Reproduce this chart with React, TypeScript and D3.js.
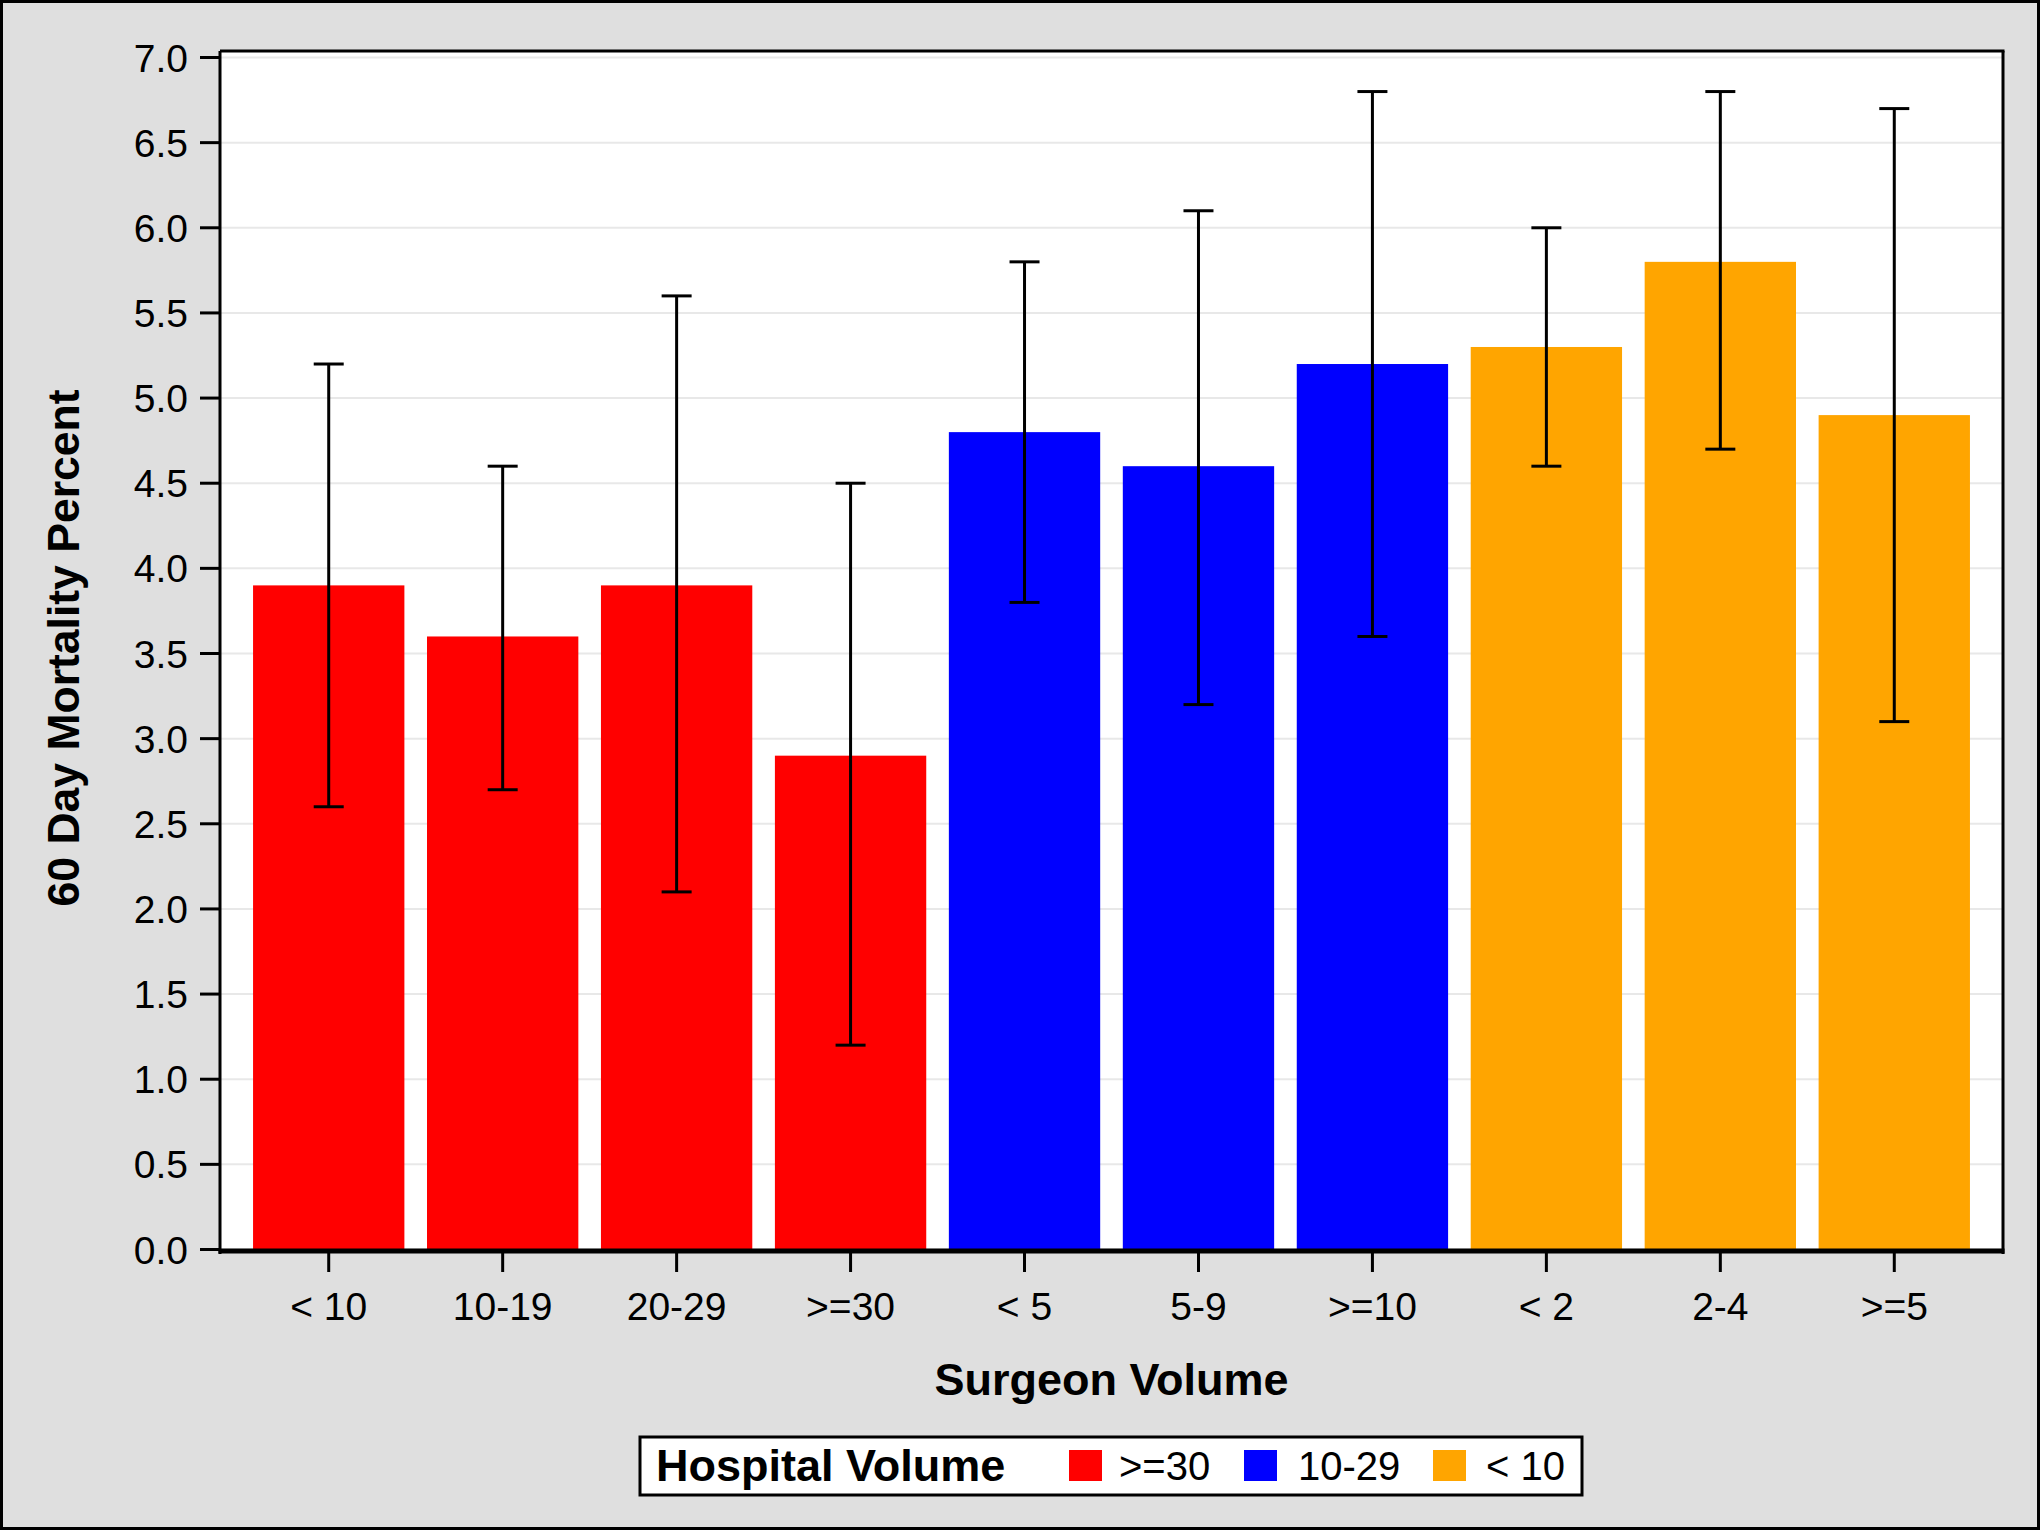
import React from "react";
import * as d3 from "d3";

const categories = ["< 10", "10-19", "20-29", ">=30", "< 5", "5-9", ">=10", "< 2", "2-4", ">=5"];
const groups = [">=30", ">=30", ">=30", ">=30", "10-29", "10-29", "10-29", "< 10", "< 10", "< 10"];
const values = [3.9, 3.6, 3.9, 2.9, 4.8, 4.6, 5.2, 5.3, 5.8, 4.9];
const lower = [2.6, 2.7, 2.1, 1.2, 3.8, 3.2, 3.6, 4.6, 4.7, 3.1];
const upper = [5.2, 4.6, 5.6, 4.5, 5.8, 6.1, 6.8, 6.0, 6.8, 6.7];
const legendLabels = [">=30", "10-29", "< 10"];
const legendColors = ["#ff0000", "#0000ff", "#ffa500"];
const yTicks = [0, 0.5, 1, 1.5, 2, 2.5, 3, 3.5, 4, 4.5, 5, 5.5, 6, 6.5, 7];

const W = 2040;
const H = 1530;
const FONT = "'Liberation Sans', Arial, Helvetica, sans-serif";

export default function App() {
  const left = 220;
  const right = 2003;
  const top = 51;
  const bottom = 1251;

  const x = d3.scaleBand<string>().domain(categories).range([left, right]).paddingInner(0.13).paddingOuter(0.19);
  const y = d3.scaleLinear().domain([0, 7]).range([1249.5, 57.5]);
  const color = d3.scaleOrdinal<string, string>().domain(legendLabels).range(legendColors);

  const capHalf = 15;

  // legend layout
  const legX = 640, legY = 1437, legW = 942, legH = 58;
  const swatchX = [1069, 1244, 1433];
  const textX = [1119, 1298, 1486];

  return (
    <div style={{ position: "absolute", left: 0, top: 0, width: W, height: H }}>
      <svg width={W} height={H} viewBox={`0 0 ${W} ${H}`} style={{ display: "block", fontFamily: FONT }}>
        <rect x={1.5} y={1.5} width={W - 3} height={H - 3} fill="#dfdfdf" stroke="#000" strokeWidth={3} />
        {/* plot background */}
        <rect x={left} y={top} width={right - left} height={bottom - top} fill="#ffffff" />
        {/* gridlines */}
        {yTicks.map((t) => (
          <line key={"g" + t} x1={left} x2={right} y1={y(t)} y2={y(t)} stroke="#e8e8e8" strokeWidth={2} />
        ))}
        {/* bars */}
        {categories.map((c, i) => (
          <rect
            key={"b" + c}
            x={x(c)}
            y={y(values[i])}
            width={x.bandwidth()}
            height={y(0) - y(values[i])}
            fill={color(groups[i])}
          />
        ))}
        {/* error bars */}
        {categories.map((c, i) => {
          const cx = (x(c) as number) + x.bandwidth() / 2;
          return (
            <g key={"e" + c} stroke="#000" strokeWidth={3}>
              <line x1={cx} x2={cx} y1={y(upper[i])} y2={y(lower[i])} />
              <line x1={cx - capHalf} x2={cx + capHalf} y1={y(upper[i])} y2={y(upper[i])} />
              <line x1={cx - capHalf} x2={cx + capHalf} y1={y(lower[i])} y2={y(lower[i])} />
            </g>
          );
        })}
        {/* frame */}
        <line x1={left} x2={left} y1={top} y2={bottom + 3} stroke="#000" strokeWidth={3} />
        <line x1={right} x2={right} y1={top} y2={bottom + 3} stroke="#000" strokeWidth={3} />
        <line x1={left} x2={right + 1.5} y1={top} y2={top} stroke="#000" strokeWidth={3} />
        <line x1={left - 1.5} x2={right + 1.5} y1={bottom} y2={bottom} stroke="#000" strokeWidth={5} />
        {/* y ticks */}
        {yTicks.map((t) => (
          <g key={"yt" + t}>
            <line x1={200} x2={left} y1={y(t)} y2={y(t)} stroke="#000" strokeWidth={3} />
            <text x={188} y={y(t)} dy="0.36em" textAnchor="end" fontSize={39} fill="#000">
              {d3.format(".1f")(t)}
            </text>
          </g>
        ))}
        {/* x ticks */}
        {categories.map((c) => {
          const cx = (x(c) as number) + x.bandwidth() / 2;
          return (
            <g key={"xt" + c}>
              <line x1={cx} x2={cx} y1={bottom} y2={1272} stroke="#000" strokeWidth={3} />
              <text x={cx} y={1320} textAnchor="middle" fontSize={39} fill="#000">
                {c}
              </text>
            </g>
          );
        })}
        {/* axis titles */}
        <text x={(left + right) / 2} y={1395} textAnchor="middle" fontSize={45} fontWeight="bold" fill="#000">
          Surgeon Volume
        </text>
        <text
          transform={`translate(79, ${(top + bottom) / 2 - 3}) rotate(-90)`}
          textAnchor="middle"
          fontSize={44.5}
          fontWeight="bold"
          fill="#000"
        >
          60 Day Mortality Percent
        </text>
        {/* legend */}
        <rect x={legX} y={legY} width={legW} height={legH} fill="#fff" stroke="#000" strokeWidth={3} />
        <text x={656} y={1481} fontSize={45} fontWeight="bold" fill="#000">
          Hospital Volume
        </text>
        {legendLabels.map((l, i) => (
          <g key={"l" + l}>
            <rect x={swatchX[i]} y={1450} width={33} height={31} fill={color(l)} />
            <text x={textX[i]} y={1480} fontSize={40} fill="#000">
              {l}
            </text>
          </g>
        ))}
      </svg>
    </div>
  );
}
